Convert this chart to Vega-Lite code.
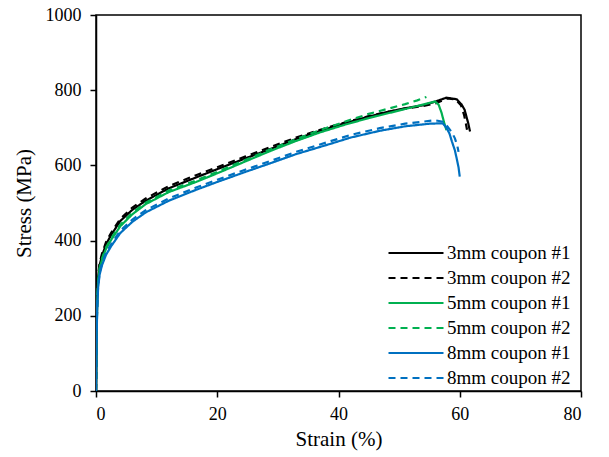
{
  "$schema": "https://vega.github.io/schema/vega-lite/v6.json",
  "width": 485,
  "height": 376,
  "autosize": "none",
  "padding": {"left": 96, "top": 15, "right": 28, "bottom": 66},
  "background": "white",
  "data": {"values": [
    {"s":"3mm coupon #1","x":0,"y":0},{"s":"3mm coupon #1","x":0.1,"y":150},{"s":"3mm coupon #1","x":0.2,"y":250},{"s":"3mm coupon #1","x":0.35,"y":300},{"s":"3mm coupon #1","x":0.6,"y":335},{"s":"3mm coupon #1","x":1,"y":360},{"s":"3mm coupon #1","x":1.65,"y":390},{"s":"3mm coupon #1","x":2.5,"y":415},{"s":"3mm coupon #1","x":4,"y":452},{"s":"3mm coupon #1","x":6,"y":482},{"s":"3mm coupon #1","x":8.2,"y":506},{"s":"3mm coupon #1","x":12,"y":539},{"s":"3mm coupon #1","x":16.5,"y":568},{"s":"3mm coupon #1","x":20,"y":590},{"s":"3mm coupon #1","x":24.7,"y":619},{"s":"3mm coupon #1","x":29,"y":645},{"s":"3mm coupon #1","x":33,"y":670},{"s":"3mm coupon #1","x":37,"y":692},{"s":"3mm coupon #1","x":41,"y":712},{"s":"3mm coupon #1","x":45,"y":730},{"s":"3mm coupon #1","x":48,"y":742},{"s":"3mm coupon #1","x":51,"y":752},{"s":"3mm coupon #1","x":54,"y":760},{"s":"3mm coupon #1","x":56,"y":770},{"s":"3mm coupon #1","x":57.8,"y":780},{"s":"3mm coupon #1","x":59.5,"y":776},{"s":"3mm coupon #1","x":60.3,"y":762},{"s":"3mm coupon #1","x":60.8,"y":748},{"s":"3mm coupon #1","x":61.1,"y":730},{"s":"3mm coupon #1","x":61.4,"y":712},{"s":"3mm coupon #1","x":61.7,"y":690},
    {"s":"3mm coupon #2","x":0,"y":0},{"s":"3mm coupon #2","x":0.1,"y":160},{"s":"3mm coupon #2","x":0.2,"y":255},{"s":"3mm coupon #2","x":0.35,"y":305},{"s":"3mm coupon #2","x":0.6,"y":340},{"s":"3mm coupon #2","x":1,"y":366},{"s":"3mm coupon #2","x":1.65,"y":396},{"s":"3mm coupon #2","x":2.5,"y":421},{"s":"3mm coupon #2","x":4,"y":458},{"s":"3mm coupon #2","x":6,"y":488},{"s":"3mm coupon #2","x":8.2,"y":512},{"s":"3mm coupon #2","x":12,"y":545},{"s":"3mm coupon #2","x":16.5,"y":574},{"s":"3mm coupon #2","x":20,"y":595},{"s":"3mm coupon #2","x":24.7,"y":624},{"s":"3mm coupon #2","x":29,"y":650},{"s":"3mm coupon #2","x":33,"y":674},{"s":"3mm coupon #2","x":37,"y":695},{"s":"3mm coupon #2","x":41,"y":714},{"s":"3mm coupon #2","x":45,"y":731},{"s":"3mm coupon #2","x":48,"y":742},{"s":"3mm coupon #2","x":51,"y":751},{"s":"3mm coupon #2","x":54,"y":758},{"s":"3mm coupon #2","x":56,"y":765},{"s":"3mm coupon #2","x":58,"y":778},{"s":"3mm coupon #2","x":59.3,"y":775},{"s":"3mm coupon #2","x":60.2,"y":760},{"s":"3mm coupon #2","x":60.7,"y":735},{"s":"3mm coupon #2","x":61,"y":712},{"s":"3mm coupon #2","x":61.2,"y":695},
    {"s":"5mm coupon #1","x":0,"y":0},{"s":"5mm coupon #1","x":0.1,"y":150},{"s":"5mm coupon #1","x":0.2,"y":240},{"s":"5mm coupon #1","x":0.35,"y":290},{"s":"5mm coupon #1","x":0.6,"y":325},{"s":"5mm coupon #1","x":1,"y":350},{"s":"5mm coupon #1","x":1.65,"y":378},{"s":"5mm coupon #1","x":2.5,"y":402},{"s":"5mm coupon #1","x":4,"y":438},{"s":"5mm coupon #1","x":6,"y":470},{"s":"5mm coupon #1","x":8.2,"y":497},{"s":"5mm coupon #1","x":12,"y":529},{"s":"5mm coupon #1","x":16.5,"y":556},{"s":"5mm coupon #1","x":20,"y":579},{"s":"5mm coupon #1","x":24.7,"y":611},{"s":"5mm coupon #1","x":29,"y":640},{"s":"5mm coupon #1","x":33,"y":665},{"s":"5mm coupon #1","x":37,"y":688},{"s":"5mm coupon #1","x":41,"y":708},{"s":"5mm coupon #1","x":45,"y":726},{"s":"5mm coupon #1","x":48,"y":738},{"s":"5mm coupon #1","x":51,"y":750},{"s":"5mm coupon #1","x":53.5,"y":760},{"s":"5mm coupon #1","x":55.9,"y":770},{"s":"5mm coupon #1","x":56.5,"y":762},{"s":"5mm coupon #1","x":57,"y":740},{"s":"5mm coupon #1","x":57.4,"y":715},{"s":"5mm coupon #1","x":57.8,"y":694},
    {"s":"5mm coupon #2","x":0,"y":0},{"s":"5mm coupon #2","x":0.1,"y":150},{"s":"5mm coupon #2","x":0.2,"y":245},{"s":"5mm coupon #2","x":0.35,"y":293},{"s":"5mm coupon #2","x":0.6,"y":328},{"s":"5mm coupon #2","x":1,"y":353},{"s":"5mm coupon #2","x":1.65,"y":382},{"s":"5mm coupon #2","x":2.5,"y":406},{"s":"5mm coupon #2","x":4,"y":442},{"s":"5mm coupon #2","x":6,"y":474},{"s":"5mm coupon #2","x":8.2,"y":501},{"s":"5mm coupon #2","x":12,"y":533},{"s":"5mm coupon #2","x":16.5,"y":560},{"s":"5mm coupon #2","x":20,"y":583},{"s":"5mm coupon #2","x":24.7,"y":615},{"s":"5mm coupon #2","x":29,"y":644},{"s":"5mm coupon #2","x":33,"y":670},{"s":"5mm coupon #2","x":37,"y":694},{"s":"5mm coupon #2","x":41,"y":716},{"s":"5mm coupon #2","x":45,"y":737},{"s":"5mm coupon #2","x":48,"y":750},{"s":"5mm coupon #2","x":51,"y":763},{"s":"5mm coupon #2","x":53,"y":773},{"s":"5mm coupon #2","x":54.5,"y":782},
    {"s":"8mm coupon #1","x":0,"y":0},{"s":"8mm coupon #1","x":0.1,"y":140},{"s":"8mm coupon #1","x":0.2,"y":220},{"s":"8mm coupon #1","x":0.35,"y":275},{"s":"8mm coupon #1","x":0.6,"y":310},{"s":"8mm coupon #1","x":1,"y":335},{"s":"8mm coupon #1","x":1.65,"y":362},{"s":"8mm coupon #1","x":2.5,"y":385},{"s":"8mm coupon #1","x":4,"y":420},{"s":"8mm coupon #1","x":6,"y":450},{"s":"8mm coupon #1","x":8.2,"y":475},{"s":"8mm coupon #1","x":12,"y":506},{"s":"8mm coupon #1","x":16.5,"y":535},{"s":"8mm coupon #1","x":20,"y":556},{"s":"8mm coupon #1","x":24.7,"y":583},{"s":"8mm coupon #1","x":29,"y":607},{"s":"8mm coupon #1","x":33,"y":630},{"s":"8mm coupon #1","x":38.6,"y":657},{"s":"8mm coupon #1","x":42,"y":674},{"s":"8mm coupon #1","x":46.8,"y":692},{"s":"8mm coupon #1","x":51,"y":704},{"s":"8mm coupon #1","x":55.1,"y":711},{"s":"8mm coupon #1","x":57.2,"y":712},{"s":"8mm coupon #1","x":57.8,"y":700},{"s":"8mm coupon #1","x":58.3,"y":685},{"s":"8mm coupon #1","x":58.7,"y":664},{"s":"8mm coupon #1","x":59.2,"y":640},{"s":"8mm coupon #1","x":59.5,"y":618},{"s":"8mm coupon #1","x":59.8,"y":595},{"s":"8mm coupon #1","x":60,"y":570},
    {"s":"8mm coupon #2","x":0,"y":0},{"s":"8mm coupon #2","x":0.1,"y":145},{"s":"8mm coupon #2","x":0.2,"y":225},{"s":"8mm coupon #2","x":0.35,"y":280},{"s":"8mm coupon #2","x":0.6,"y":315},{"s":"8mm coupon #2","x":1,"y":340},{"s":"8mm coupon #2","x":1.65,"y":367},{"s":"8mm coupon #2","x":2.5,"y":391},{"s":"8mm coupon #2","x":4,"y":426},{"s":"8mm coupon #2","x":6,"y":456},{"s":"8mm coupon #2","x":8.2,"y":481},{"s":"8mm coupon #2","x":12,"y":512},{"s":"8mm coupon #2","x":16.5,"y":541},{"s":"8mm coupon #2","x":20,"y":562},{"s":"8mm coupon #2","x":24.7,"y":589},{"s":"8mm coupon #2","x":29,"y":613},{"s":"8mm coupon #2","x":33,"y":636},{"s":"8mm coupon #2","x":38.6,"y":664},{"s":"8mm coupon #2","x":42,"y":681},{"s":"8mm coupon #2","x":46.8,"y":699},{"s":"8mm coupon #2","x":51,"y":711},{"s":"8mm coupon #2","x":55.9,"y":720},{"s":"8mm coupon #2","x":57.2,"y":716},{"s":"8mm coupon #2","x":58,"y":703},{"s":"8mm coupon #2","x":58.7,"y":688},{"s":"8mm coupon #2","x":59.2,"y":672},{"s":"8mm coupon #2","x":59.6,"y":652},{"s":"8mm coupon #2","x":59.8,"y":636}
  ]},
  "mark": {"type": "line", "strokeWidth": 2.2, "clip": true},
  "encoding": {
    "x": {"field": "x", "type": "quantitative", "title": "Strain (%)",
      "scale": {"domain": [0, 80], "nice": false},
      "axis": {"values": [0, 20, 40, 60, 80], "grid": false, "labelPadding": 8, "titlePadding": 5}},
    "y": {"field": "y", "type": "quantitative", "title": "Stress (MPa)",
      "scale": {"domain": [0, 1000], "nice": false},
      "axis": {"values": [0, 200, 400, 600, 800, 1000], "format": "d", "grid": false, "labelPadding": 9, "titlePadding": 11}},
    "color": {"field": "s", "type": "nominal", "title": null,
      "scale": {"domain": ["3mm coupon #1","3mm coupon #2","5mm coupon #1","5mm coupon #2","8mm coupon #1","8mm coupon #2"],
        "range": ["#000000","#000000","#00B050","#00B050","#0070C0","#0070C0"]}},
    "strokeDash": {"field": "s", "type": "nominal", "title": null,
      "scale": {"domain": ["3mm coupon #1","3mm coupon #2","5mm coupon #1","5mm coupon #2","8mm coupon #1","8mm coupon #2"],
        "range": [[1,0],[7,5],[1,0],[7,5],[1,0],[7,5]]}}
  },
  "config": {
    "font": "Liberation Serif",
    "view": {"stroke": "#000000", "strokeWidth": 1.5},
    "axis": {
      "domainColor": "#000000", "domainWidth": 1.5,
      "tickColor": "#000000", "tickWidth": 1.5, "tickSize": 6,
      "labelFont": "Liberation Serif", "labelFontSize": 18, "labelColor": "#000000",
      "titleFont": "Liberation Serif", "titleFontSize": 21, "titleFontWeight": "normal", "titleColor": "#000000"
    },
    "legend": {
      "orient": "none", "legendX": 306, "legendY": 224,
      "labelFont": "Liberation Serif", "labelFontSize": 19, "labelColor": "#000000",
      "symbolType": "M-2.2,0H2.2", "symbolSize": 625, "symbolStrokeWidth": 2.2,
      "labelOffset": 17, "rowPadding": 1, "labelLimit": 300
    }
  }
}
